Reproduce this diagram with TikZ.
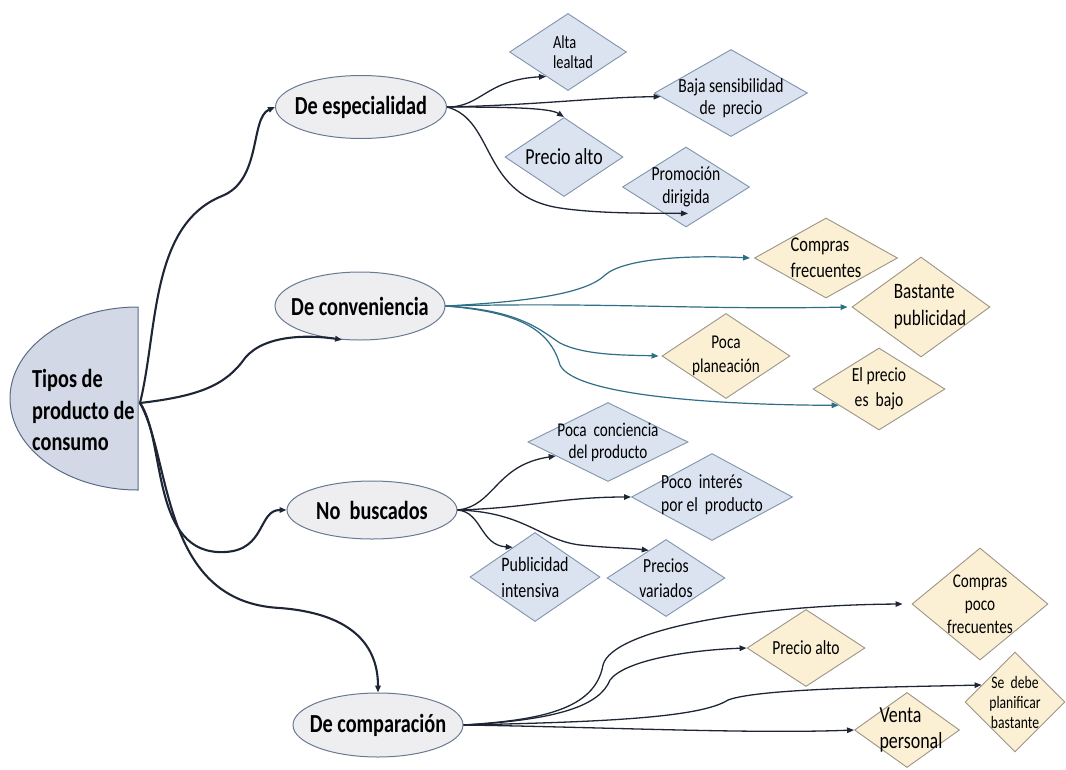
\documentclass[tikz,border=0pt]{standalone}
\usepackage{fontspec}
\setmainfont{Carlito}[FakeStretch=0.78]
\usetikzlibrary{shapes.geometric,arrows.meta}

\definecolor{inkdark}{HTML}{1E2635}
\definecolor{inkteal}{HTML}{2E6E86}
\definecolor{rootfill}{HTML}{D3D8E6}
\definecolor{rootline}{HTML}{5C6B85}
\definecolor{ovalfill}{HTML}{EEEEF0}
\definecolor{ovalline}{HTML}{687A92}
\definecolor{bluefill}{HTML}{DAE3EF}
\definecolor{blueline}{HTML}{8094AE}
\definecolor{yelfill}{HTML}{FBF0D4}
\definecolor{yelline}{HTML}{9C9486}

\begin{document}
\begin{tikzpicture}[x=1pt,y=-1pt,
  oval/.style={ellipse, draw=ovalline, fill=ovalfill, line width=1pt, inner sep=0pt},
  ovaltext/.style={inner sep=0pt, font=\bfseries\fontsize{26}{30}\selectfont},
  bdia/.style={diamond, draw=blueline, fill=bluefill, line width=0.9pt, inner sep=0pt},
  ydia/.style={diamond, draw=yelline, fill=yelfill, line width=0.9pt, inner sep=0pt},
  dt/.style={align=center, inner sep=0pt, font=\fontsize{20}{22}\selectfont},
  dtl/.style={dt, align=left},
  tip/.style={-{Triangle[length=7pt,width=5.5pt]}},
  rootarrow/.style={tip, draw=inkdark, line width=2.1pt},
  darkarrow/.style={tip, draw=inkdark, line width=1.3pt},
  tealarrow/.style={tip, draw=inkteal, line width=1.2pt},
]
\useasboundingbox (0,0) rectangle (1066,769);

% root: half ellipse with its title
\draw[draw=rootline, fill=rootfill, line width=1pt]
  (138,307) arc[start angle=90, end angle=270, x radius=128pt, y radius=91.5pt] -- cycle;
\node[anchor=west, align=left, inner sep=0pt,
      font=\bfseries\fontsize{26}{31.5}\selectfont] (root) at (32,410)
  {Tipos de\\producto de\\consumo};
\coordinate (hub) at (140,403);

% the four product types
\node[oval, minimum width=171, minimum height=63,
      label={[ovaltext]center:De especialidad}] (esp) at (361,107) {};
\node[oval, minimum width=170, minimum height=68,
      label={[ovaltext]center:De conveniencia}] (conv) at (360,306) {};
\node[oval, minimum width=170, minimum height=58,
      label={[ovaltext]center:No~~buscados}] (nob) at (372,510) {};
\node[oval, minimum width=170, minimum height=64,
      label={[ovaltext]center:De comparación}] (comp) at (378,725) {};

% specialty products
\node[bdia, minimum width=117, minimum height=77,
      label={[dtl, font=\fontsize{18.5}{20}\selectfont, xshift=5pt]center:Alta\\lealtad}] (alta) at (568,52) {};
\node[bdia, minimum width=153, minimum height=87,
      label={[dt, yshift=-5pt]center:Baja sensibilidad\\de~~precio}] (baja) at (731,93) {};
\node[bdia, minimum width=118, minimum height=79,
      label={[dt, font=\fontsize{23}{24}\selectfont]center:Precio alto}] (palto) at (564,157) {};
\node[bdia, minimum width=127, minimum height=80,
      label={[dt, font=\fontsize{20}{23}\selectfont]center:Promoción\\dirigida}] (promo) at (686,187) {};

% convenience products
\node[ydia, minimum width=143, minimum height=80,
      label={[dtl, font=\fontsize{21}{26}\selectfont]center:Compras\\frecuentes}] (cfrec) at (826,258) {};
\node[ydia, minimum width=138, minimum height=100,
      label={[dtl, font=\fontsize{22}{27}\selectfont, xshift=9pt]center:Bastante\\publicidad}] (bast) at (921,307) {};
\node[ydia, minimum width=128, minimum height=85,
      label={[dt, font=\fontsize{19.5}{24}\selectfont]center:Poca\\planeación}] (plan) at (726,356) {};
\node[ydia, minimum width=132, minimum height=82,
      label={[dt, font=\fontsize{20}{25}\selectfont]center:El precio\\es~~bajo}] (bajo) at (879,389) {};

% unsought products
\node[bdia, minimum width=160, minimum height=79,
      label={[dt, font=\fontsize{19.5}{22}\selectfont]center:Poca~~conciencia\\del producto}] (conc) at (608,442) {};
\node[bdia, minimum width=161, minimum height=87,
      label={[dtl, font=\fontsize{20}{23}\selectfont, yshift=2pt]center:Poco~~interés\\por el~~producto}] (inter) at (712,497) {};
\node[bdia, minimum width=130, minimum height=89,
      label={[dtl, font=\fontsize{20.5}{26}\selectfont]center:Publicidad\\intensiva}] (pint) at (535,577) {};
\node[bdia, minimum width=118, minimum height=77,
      label={[dt, font=\fontsize{20}{25}\selectfont]center:Precios\\variados}] (pvar) at (666,578) {};

% shopping products
\node[ydia, minimum width=136, minimum height=112,
      label={[dt, font=\fontsize{19.5}{23}\selectfont]center:Compras\\poco\\frecuentes}] (cpf) at (980,604) {};
\node[ydia, minimum width=118, minimum height=77,
      label={[dt, font=\fontsize{20}{24}\selectfont]center:Precio alto}] (palto2) at (806,648) {};
\node[ydia, minimum width=100, minimum height=100,
      label={[dt, font=\fontsize{17.5}{20}\selectfont]center:Se~~debe\\planificar\\bastante}] (plnf) at (1015,702) {};
\node[ydia, minimum width=105, minimum height=75,
      label={[dtl, font=\fontsize{23}{26}\selectfont, xshift=4pt]center:Venta\\personal}] (venta) at (907,730) {};

% hub to product types
\draw[rootarrow] (hub) .. controls (158,330) and (150,225) .. (222,196)
  .. controls (262,180) and (250,118) .. (esp.west);
\draw[rootarrow] (hub) .. controls (200,396) and (226,385) .. (245,358)
  .. controls (265,334) and (310,335) .. (conv.242);
\draw[rootarrow] (hub) .. controls (166,440) and (150,556) .. (225,552)
  .. controls (266,550) and (258,510) .. (nob.west);
\draw[rootarrow] (hub) .. controls (172,460) and (160,602) .. (280,608)
  .. controls (345,613) and (378,640) .. (comp.north);

% specialty branches
\draw[darkarrow] (esp.east) .. controls (482,107) and (485,80) .. (alta.228);
\draw[darkarrow] (esp.east) .. controls (540,105) and (600,97) .. (baja.183);
\draw[darkarrow] (esp.east) .. controls (510,107) and (550,108) .. (palto.north);
\draw[darkarrow] (esp.east) .. controls (496,120) and (480,196) .. (560,208)
  .. controls (600,214) and (650,213) .. ([xshift=2pt,yshift=14pt]promo.south);

% convenience branches
\draw[tealarrow] (conv.east) .. controls (520,302) and (585,295) .. (605,275)
  .. controls (625,258) and (690,255) .. ([xshift=-4pt]cfrec.west);
\draw[tealarrow] (conv.east) .. controls (600,302) and (700,310) .. ([xshift=-4pt]bast.west);
\draw[tealarrow] (conv.east) .. controls (520,310) and (540,330) .. (560,343)
  .. controls (585,356) and (630,355) .. ([xshift=-3pt]plan.west);
\draw[tealarrow] (conv.east) .. controls (520,312) and (550,330) .. (560,365)
  .. controls (575,396) and (720,405) .. (bajo.202);

% unsought branches
\draw[darkarrow] (nob.east) .. controls (495,506) and (495,465) .. (conc.195);
\draw[darkarrow] (nob.east) .. controls (530,508) and (560,497) .. (inter.west);
\draw[darkarrow] (nob.east) .. controls (482,512) and (480,545) .. (pint.127);
\draw[darkarrow] (nob.east) .. controls (525,512) and (540,540) .. (580,545)
  .. controls (610,548) and (630,548) .. (pvar.122);

% shopping branches
\draw[darkarrow] (comp.east) .. controls (540,720) and (595,710) .. (603,665)
  .. controls (612,630) and (750,605) .. ([xshift=-9pt]cpf.west);
\draw[darkarrow] (comp.east) .. controls (560,720) and (600,705) .. (610,680)
  .. controls (625,660) and (690,650) .. (palto2.west);
\draw[darkarrow] (comp.east) .. controls (600,722) and (700,718) .. (728,700)
  .. controls (760,688) and (900,687) .. (plnf.153);
\draw[darkarrow] (comp.east) .. controls (600,727) and (750,734) .. (venta.west);
\end{tikzpicture}
\end{document}
